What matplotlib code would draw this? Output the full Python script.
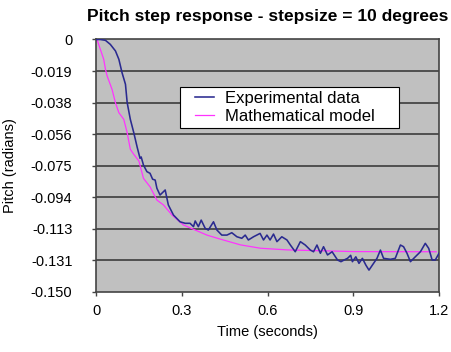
import numpy as np
import matplotlib
matplotlib.use("Agg")
import matplotlib.pyplot as plt
from matplotlib.legend_handler import HandlerLine2D

plt.rcParams['font.family'] = ['Liberation Sans', 'DejaVu Sans']

time_exp = [0.0, 0.015, 0.033, 0.05, 0.068, 0.08, 0.091, 0.103, 0.109, 0.12,
            0.132, 0.144, 0.154, 0.158, 0.166, 0.178, 0.189, 0.198, 0.207, 0.213,
            0.224, 0.242, 0.253, 0.271, 0.294, 0.312, 0.329, 0.341, 0.347, 0.358,
            0.368, 0.382, 0.393, 0.411, 0.423, 0.440, 0.458, 0.475, 0.493, 0.510,
            0.522, 0.533, 0.551, 0.574, 0.586, 0.598, 0.609, 0.621, 0.633, 0.650,
            0.668, 0.680, 0.697, 0.715, 0.732, 0.750, 0.761, 0.773, 0.785, 0.796,
            0.810, 0.826, 0.845, 0.857, 0.868, 0.880, 0.891, 0.897, 0.909, 0.920,
            0.932, 0.944, 0.955, 0.967, 0.983, 0.995, 1.006, 1.030, 1.047, 1.065,
            1.076, 1.088, 1.100, 1.117, 1.135, 1.152, 1.164, 1.176, 1.187, 1.200]
pitch_exp = [0.0, 0.0, -0.0005, -0.0029, -0.0068, -0.0118, -0.0197, -0.0266, -0.0375, -0.0474,
             -0.0553, -0.0640, -0.0706, -0.0698, -0.0746, -0.0785, -0.0795, -0.0830, -0.0835, -0.0884,
             -0.0924, -0.0894, -0.0983, -0.1043, -0.1083, -0.1092, -0.1092, -0.1112, -0.1078, -0.1112,
             -0.1073, -0.1122, -0.1132, -0.1083, -0.1132, -0.1162, -0.1162, -0.1148, -0.1172, -0.1181,
             -0.1162, -0.1191, -0.1172, -0.1152, -0.1191, -0.1162, -0.1191, -0.1156, -0.1201, -0.1172,
             -0.1191, -0.1221, -0.1261, -0.1201, -0.1221, -0.1251, -0.1261, -0.1221, -0.1270, -0.1231,
             -0.1280, -0.1261, -0.1310, -0.1320, -0.1310, -0.1300, -0.1282, -0.1320, -0.1291, -0.1330,
             -0.1300, -0.1340, -0.1370, -0.1340, -0.1300, -0.1251, -0.1300, -0.1306, -0.1300, -0.1221,
             -0.1231, -0.1270, -0.1320, -0.1291, -0.1261, -0.1211, -0.1241, -0.1310, -0.1310, -0.1270]

# mathematical model
time_model = [0.0, 0.0035, 0.015, 0.027, 0.033, 0.039, 0.056, 0.068, 0.080, 0.097,
              0.109, 0.120, 0.132, 0.150, 0.166, 0.189, 0.213, 0.236, 0.266, 0.306,
              0.347, 0.388, 0.435, 0.505, 0.575, 0.669, 0.786, 0.900, 1.190]
pitch_model = [0.0, 0.0, -0.0058, -0.0118, -0.0177, -0.0217, -0.0296, -0.0376, -0.0435, -0.0474,
               -0.0554, -0.0652, -0.0682, -0.0722, -0.0825, -0.0875, -0.0954, -0.0983, -0.1043, -0.1102,
               -0.1132, -0.1162, -0.1186, -0.1220, -0.1240, -0.1250, -0.1255, -0.1260, -0.1261]

x_ticks = [0, 0.3, 0.6, 0.9, 1.2]
x_labels = ['0', '0.3', '0.6', '0.9', '1.2']
y_labels = ['0', '-0.019', '-0.038', '-0.056', '-0.075', '-0.094', '-0.113', '-0.131', '-0.150']

fig = plt.figure(figsize=(4.51, 3.52), dpi=100)
ax = fig.add_axes([0.2129, 0.1705, 0.7605, 0.7173])
ax.set_facecolor('#c0c0c0')

y_ticks = np.linspace(0, -0.15, len(y_labels))
for yv in y_ticks[1:-1]:
    ax.axhline(yv, color='#3c3c3c', lw=1.2, zorder=1)

ax.plot(time_exp, pitch_exp, color='#2a2a90', lw=1.15, label='Experimental data',
        solid_joinstyle='round', zorder=3)
ax.plot(time_model, pitch_model, color='#ff33ff', lw=0.9, label='Mathematical model', zorder=2)

ax.set_xlim(0, 1.2)
ax.set_ylim(-0.15, 0)
ax.set_xticks(x_ticks)
ax.set_xticklabels(x_labels)
ax.set_yticks(y_ticks)
ax.set_yticklabels(y_labels)
ax.tick_params(axis='both', direction='out', length=3, width=1, color='#444444',
               labelsize=10.5)
ax.tick_params(axis='y', pad=14)
ax.tick_params(axis='x', pad=6)

for s in ax.spines.values():
    s.set_color('#444444')
    s.set_linewidth(1.2)

ax.set_xlabel('Time (seconds)', fontsize=10.5, labelpad=5)
ax.set_ylabel('Pitch (radians)', fontsize=10.5, labelpad=10)
ax.set_title('Pitch step response - stepsize = 10 degrees', fontsize=12.5,
             fontweight='bold', pad=13)

hmap = {l: HandlerLine2D(xpad=0.66) for l in ax.get_lines()}
leg = ax.legend(loc='upper left', bbox_to_anchor=(0.245, 0.644, 0.639, 0.169),
                mode='expand', fontsize=12, frameon=True, fancybox=False,
                edgecolor='black', framealpha=1, borderpad=0.25, labelspacing=0.2,
                handlelength=1.8, handletextpad=0.66, borderaxespad=0,
                handler_map=hmap)
leg.get_frame().set_linewidth(0.8)

fig.savefig('out.png', dpi=100)
